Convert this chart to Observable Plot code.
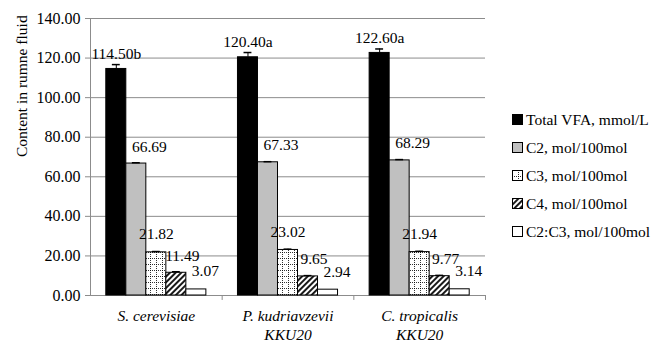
<!DOCTYPE html>
<html><head><meta charset="utf-8">
<script src="https://cdn.jsdelivr.net/npm/d3@7"></script>
<script src="https://cdn.jsdelivr.net/npm/@observablehq/plot@0.6"></script>
<style>
html,body{margin:0;padding:0;background:#fff;}
#wrap{position:relative;width:654px;height:342px;color:#000;}
#wrap, #wrap *{font-family:'Liberation Serif',serif !important;}
#legend{position:absolute;left:512px;top:106px;}
.row{height:28px;display:flex;align-items:center;font-size:15.5px;white-space:nowrap;}
.row svg{margin-right:2px;display:block;}
g[aria-label="x-axis tick label"] text{font-style:italic;}
</style></head><body>
<svg width="0" height="0" style="position:absolute">
<defs>
<pattern id="p-grid" width="6" height="6" patternUnits="userSpaceOnUse">
<rect width="6" height="6" fill="white"/>
<path d="M0 0.5H6M0.5 0V6" stroke="black" stroke-width="0.8" stroke-dasharray="1,1"/>
</pattern>
<pattern id="p-hatch" width="4" height="4" patternUnits="userSpaceOnUse" patternTransform="rotate(45)">
<rect width="4" height="4" fill="white"/>
<line x1="1" y1="0" x2="1" y2="4" stroke="black" stroke-width="1.8"/>
</pattern>
</defs></svg>
<div id="wrap"><div id="legend"></div></div>
<script>
// ---- data ----
const strains = ["S. cerevisiae", "P. kudriavzevii\nKKU20", "C. tropicalis\nKKU20"];
const seriesNames = ["Total VFA, mmol/L", "C2, mol/100mol", "C3, mol/100mol", "C4, mol/100mol", "C2:C3, mol/100mol"];
const totalVFA = [114.50, 120.40, 122.60];
const c2 = [66.69, 67.33, 68.29];
const c3 = [21.82, 23.02, 21.94];
const c4 = [11.49, 9.65, 9.77];
const c2c3 = [3.07, 2.94, 3.14];
const totalLetters = ["b", "a", "a"];
const errTotal = [2.2, 2.4, 2.0];
const errC2 = [0.4, 0.3, 0.4];
const errC3 = [0.4, 0.4, 0.4];
const errC4 = [0.5, 0.4, 0.4];
const errC2C3 = [0, 0, 0];
const yTicks = [0, 20, 40, 60, 80, 100, 120, 140];
const yLabel = "Content in rumne fluid";

// ---- styles ----
const FONT = "'Liberation Serif', serif";
const seriesValues = [totalVFA, c2, c3, c4, c2c3];
const seriesErrors = [errTotal, errC2, errC3, errC4, errC2C3];
const seriesFill = ["#000000", "#c0c0c0", "url(#p-grid)", "url(#p-hatch)", "#ffffff"];
const labelDx = [0, 13, 0, 6, 9];
const labelDy = [-15, -17, -18, -17, -18];
const barFrac = 0.76;
const bw = barFrac / seriesNames.length;
const pad = (1 - barFrac) / 2;

const rows = [];
strains.forEach((s, i) => seriesValues.forEach((vals, j) => {
  rows.push({
    i, j, value: vals[i], err: seriesErrors[j][i],
    label: vals[i].toFixed(2) + (j === 0 ? totalLetters[i] : ""),
    x1: i + pad + j * bw, x2: i + pad + (j + 1) * bw, xc: i + pad + (j + 0.5) * bw
  });
}));

const gray = "#8c8c8c";
const marks = [
  Plot.ruleY(yTicks.slice(1), {stroke: gray, strokeWidth: 1}),
  Plot.ruleY([0], {stroke: gray}),
  Plot.ruleX([0], {stroke: gray}),
  Plot.ruleX(d3.range(1, strains.length + 1), {y1: 0, y2: -2.5, stroke: gray}),
  Plot.axisY({ticks: yTicks, tickFormat: d3.format(".2f"), tickSize: 5, tickPadding: 5, stroke: gray, fill: "black", fontSize: 16, label: null}),
  Plot.text([yLabel], {frameAnchor: "left", rotate: -90, dx: -68, fontSize: 15.5, fill: "black"}),
  Plot.axisX({ticks: strains.map((s, i) => i + 0.5), tickFormat: v => strains[Math.floor(v)], tickSize: 0, tickPadding: 12, fontSize: 15.5, lineHeight: 1.22, label: null})
];
seriesNames.forEach((name, j) => {
  const d = rows.filter(r => r.j === j);
  marks.push(Plot.rectY(d, {x1: "x1", x2: "x2", y1: 0, y2: "value", fill: seriesFill[j], stroke: "black", strokeWidth: 1}));
  marks.push(Plot.ruleX(d.filter(r => r.err > 0), {x: "xc", y1: "value", y2: r => r.value + r.err, stroke: "black", strokeWidth: 1}));
  marks.push(Plot.ruleY(d.filter(r => r.err > 0), {y: r => r.value + r.err, x1: r => r.xc - 0.03, x2: r => r.xc + 0.03, stroke: "black", strokeWidth: 1.5}));
  marks.push(Plot.text(d, {x: "xc", y: "value", text: "label", dx: labelDx[j], dy: labelDy[j], fontSize: 15.5, fill: "black"}));
});

const chart = Plot.plot({
  width: 654, height: 342,
  marginLeft: 90, marginRight: 169, marginTop: 18, marginBottom: 47,
  style: {fontFamily: FONT, fontSize: "16px", background: "white", color: "black", overflow: "visible"},
  x: {domain: [0, strains.length], axis: null},
  y: {domain: [0, 140], axis: null},
  marks
});
chart.setAttribute("font-family", FONT);
const wrap = document.getElementById("wrap");
wrap.insertBefore(chart, wrap.firstChild);

const legend = document.getElementById("legend");
seriesNames.forEach((name, j) => {
  const row = document.createElement("div");
  row.className = "row";
  row.style.fontFamily = FONT;
  row.innerHTML = `<svg width="12" height="12"><rect x="0.5" y="0.5" width="10" height="10" fill="${seriesFill[j]}" stroke="black" stroke-width="1"/></svg><span>${name}</span>`;
  legend.appendChild(row);
});
</script>
</body></html>
